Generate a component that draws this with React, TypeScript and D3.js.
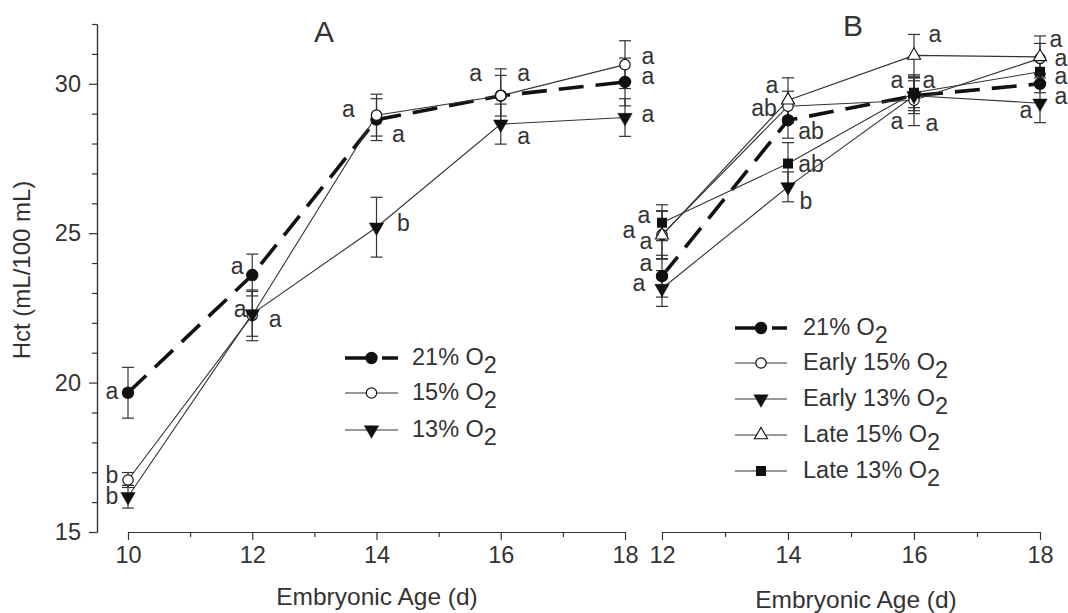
import { useEffect, useRef } from 'react';
import * as d3 from 'd3';

// ---- data ----
const daysA = [10, 12, 14, 16, 18];
const daysB = [12, 14, 16, 18];

const hctA21 = [19.66, 23.6, 28.8, 29.6, 30.06];
const errA21 = [0.85, 0.7, 0.7, 0.68, 0.8];
const sigA21 = ['a', 'a', 'a', 'a', 'a'];

const hctA15 = [16.74, 22.25, 28.95, 29.6, 30.64];
const errA15 = [0.25, 0.85, 0.7, 0.9, 0.8];
const sigA15 = ['b', 'a', 'a', 'a', 'a'];

const hctA13 = [16.18, 22.3, 25.2, 28.65, 28.87];
const errA13 = [0.38, 0.75, 1.0, 0.67, 0.63];
const sigA13 = ['b', 'a', 'b', 'a', 'a'];

const hctB21 = [23.56, 28.78, 29.6, 30.0];
const errB21 = [0.7, 0.6, 0.6, 0.3];
const sigB21 = ['a', 'ab', 'a', 'a'];

const hctBE15 = [24.95, 29.25, 29.45, 30.85];
const errBE15 = [0.8, 0.5, 0.85, 0.5];
const sigBE15 = ['a', 'ab', 'a', 'a'];

const hctBE13 = [23.15, 26.55, 29.6, 29.35];
const errBE13 = [0.6, 0.5, 0.5, 0.65];
const sigBE13 = ['a', 'b', 'a', 'a'];

const hctBL15 = [24.93, 29.45, 30.95, 30.9];
const errBL15 = [0.8, 0.75, 0.7, 0.7];
const sigBL15 = ['a', 'a', 'a', 'a'];

const hctBL13 = [25.35, 27.33, 29.7, 30.4];
const errBL13 = [0.6, 0.7, 0.5, 0.4];
const sigBL13 = ['a', 'ab', 'a', 'a'];

const yMajor = [15, 20, 25, 30];

// where each significance letter sits relative to its point (px)
const offA21 = [[-16, 0], [-15, -7], [22, 16], [23, -21], [23, -4]];
const offA15 = [[-16, -3], [-12, -4], [-28, -4], [-25, -21], [23, -7]];
const offA13 = [[-16, 1], [23, 7], [27, -2], [23, 14], [23, -2]];
const offB21 = [[-16, -11], [23, 13], [-17, -14], [21, 14]];
const offBE15 = [[-16, 8], [-24, 4], [-17, 23], [21, 2]];
const offBE13 = [[-23, -3], [18, 16], [18, 29], [-14, 9]];
const offBL15 = [[-33, -3], [-16, -13], [21, -19], [16, -16]];
const offBL13 = [[-18, -6], [23, 2], [15, -11], [21, 6]];

type Marker = 'dot' | 'ring' | 'down' | 'up' | 'square';
interface Series {
  label: string;
  values: number[];
  err: number[];
  sig: string[];
  off: number[][];
  marker: Marker;
  dashed?: boolean;
}

const FONT = '"Liberation Sans", Arial, Helvetica, sans-serif';
const INK = '#333';

export default function App() {
  const ref = useRef<SVGSVGElement>(null);

  useEffect(() => {
    const svg = d3.select(ref.current);
    svg.selectAll('*').remove();

    const y = d3.scaleLinear().domain([15, 32]).range([532, 24]);
    const xA = d3.scaleLinear().domain([10, 18]).range([128, 625]);
    const xB = d3.scaleLinear().domain([12, 18]).range([662, 1040]);

    const seriesA: Series[] = [
      { label: '21% O', values: hctA21, err: errA21, sig: sigA21, off: offA21, marker: 'dot', dashed: true },
      { label: '15% O', values: hctA15, err: errA15, sig: sigA15, off: offA15, marker: 'ring' },
      { label: '13% O', values: hctA13, err: errA13, sig: sigA13, off: offA13, marker: 'down' },
    ];
    const seriesB: Series[] = [
      { label: '21% O', values: hctB21, err: errB21, sig: sigB21, off: offB21, marker: 'dot', dashed: true },
      { label: 'Early 15% O', values: hctBE15, err: errBE15, sig: sigBE15, off: offBE15, marker: 'ring' },
      { label: 'Early 13% O', values: hctBE13, err: errBE13, sig: sigBE13, off: offBE13, marker: 'down' },
      { label: 'Late 15% O', values: hctBL15, err: errBL15, sig: sigBL15, off: offBL15, marker: 'up' },
      { label: 'Late 13% O', values: hctBL13, err: errBL13, sig: sigBL13, off: offBL13, marker: 'square' },
    ];

    const drawMarker = (g: d3.Selection<SVGGElement, unknown, null, undefined>, m: Marker, cx: number, cy: number) => {
      if (m === 'dot' || m === 'ring') {
        g.append('circle')
          .attr('cx', cx).attr('cy', cy).attr('r', m === 'dot' ? 5.6 : 5.2)
          .attr('fill', m === 'dot' ? '#111' : '#fff')
          .attr('stroke', '#111').attr('stroke-width', 1.2);
      } else if (m === 'square') {
        g.append('path')
          .attr('d', d3.symbol().type(d3.symbolSquare).size(100)())
          .attr('transform', `translate(${cx},${cy})`)
          .attr('fill', '#111');
      } else {
        g.append('path')
          .attr('d', d3.symbol().type(d3.symbolTriangle).size(m === 'down' ? 90 : 75)())
          .attr('transform', `translate(${cx},${cy}) rotate(${m === 'down' ? 180 : 0})`)
          .attr('fill', m === 'down' ? '#111' : '#fff')
          .attr('stroke', '#111').attr('stroke-width', m === 'down' ? 0.5 : 1.1);
      }
    };

    const drawPanel = (x: d3.ScaleLinear<number, number>, days: number[], series: Series[]) => {
      const g = svg.append('g');
      const line = d3.line<number>().x((_, i) => x(days[i])).y((v) => y(v));

      series.forEach((s) => {
        g.append('path')
          .attr('d', line(s.values))
          .attr('fill', 'none')
          .attr('stroke', s.dashed ? '#111' : INK)
          .attr('stroke-width', s.dashed ? 3.6 : 1.1)
          .attr('stroke-dasharray', s.dashed ? '25,12' : null);
      });

      series.forEach((s) => {
        s.values.forEach((v, i) => {
          const cx = x(days[i]);
          const y0 = y(v - s.err[i]);
          const y1 = y(v + s.err[i]);
          g.append('line').attr('x1', cx).attr('x2', cx).attr('y1', y0).attr('y2', y1)
            .attr('stroke', INK).attr('stroke-width', 1.2);
          [y0, y1].forEach((yy) => {
            g.append('line').attr('x1', cx - 6).attr('x2', cx + 6).attr('y1', yy).attr('y2', yy)
              .attr('stroke', INK).attr('stroke-width', 1.2);
          });
        });
      });

      series.forEach((s) => {
        s.values.forEach((v, i) => drawMarker(g, s.marker, x(days[i]), y(v)));
      });

      series.forEach((s) => {
        s.values.forEach((v, i) => {
          g.append('text')
            .attr('x', x(days[i]) + s.off[i][0])
            .attr('y', y(v) + s.off[i][1] + 6)
            .attr('text-anchor', 'middle')
            .attr('font-family', FONT)
            .attr('font-size', 23)
            .attr('fill', INK)
            .text(s.sig[i]);
        });
      });

      // x axis: minor then major ticks
      const minor = d3.range(days[0] + 1, days[days.length - 1], 2);
      const ax = svg.append('g').attr('transform', 'translate(0,532)');
      ax.append('g')
        .call(d3.axisBottom(x).tickValues(minor).tickSize(5).tickSizeOuter(0).tickFormat(() => ''));
      ax.append('g')
        .call(d3.axisBottom(x).tickValues(days).tickSize(8).tickSizeOuter(0).tickPadding(6).tickFormat(d3.format('d')));
      ax.selectAll('path, line').attr('stroke', INK).attr('stroke-width', 1.2);
      ax.selectAll('text').attr('font-family', FONT).attr('font-size', 23.5).attr('fill', INK);
    };

    drawPanel(xA, daysA, seriesA);
    drawPanel(xB, daysB, seriesB);

    // y axis (panel A only)
    const yMinor = d3.range(16, 33).filter((v) => !yMajor.includes(v));
    const ay = svg.append('g').attr('transform', 'translate(97,0)');
    ay.append('g').call(d3.axisLeft(y).tickValues(yMinor).tickSize(5).tickSizeOuter(0).tickFormat(() => ''));
    ay.append('g').call(d3.axisLeft(y).tickValues(yMajor).tickSize(8).tickSizeOuter(0).tickPadding(8).tickFormat(d3.format('d')));
    ay.selectAll('path, line').attr('stroke', INK).attr('stroke-width', 1.2);
    ay.selectAll('text').attr('font-family', FONT).attr('font-size', 23.5).attr('fill', INK);

    const txt = (tx: number, ty: number, s: string, size: number, anchor = 'middle') =>
      svg.append('text').attr('x', tx).attr('y', ty).attr('text-anchor', anchor)
        .attr('font-family', FONT).attr('font-size', size).attr('fill', INK).text(s);

    txt(324, 42, 'A', 30);
    txt(853, 36, 'B', 30);
    txt(377, 605, 'Embryonic Age (d)', 24.5);
    txt(856, 608, 'Embryonic Age (d)', 24.5);
    svg.append('text')
      .attr('transform', 'translate(30,270) rotate(-90)')
      .attr('text-anchor', 'middle')
      .attr('font-family', FONT).attr('font-size', 24).attr('fill', INK)
      .text('Hct (mL/100 mL)');

    // legends
    const legend = (series: Series[], x0: number, x1: number, rows: number[], tx: number) => {
      const lg = svg.append('g');
      series.forEach((s, i) => {
        const ry = rows[i];
        lg.append('line').attr('x1', x0).attr('x2', x1).attr('y1', ry).attr('y2', ry)
          .attr('stroke', s.dashed ? '#111' : INK)
          .attr('stroke-width', s.dashed ? 3.6 : 1.1)
          .attr('stroke-dasharray', s.dashed ? '25,12' : null);
        drawMarker(lg, s.marker, (x0 + x1) / 2, ry);
        const t = lg.append('text').attr('x', tx).attr('y', ry + 7)
          .attr('font-family', FONT).attr('font-size', 23.5).attr('fill', INK);
        t.append('tspan').text(s.label);
        t.append('tspan').attr('dy', 8).text('2');
      });
    };
    legend(seriesA, 345, 398, [358, 393, 430], 412);
    legend(seriesB, 735, 787, [328, 363, 399, 435, 471], 803);
  }, []);

  return (
    <svg
      ref={ref}
      width={1068}
      height={613}
      style={{ position: 'absolute', left: 0, top: 0, background: '#fff' }}
    />
  );
}
